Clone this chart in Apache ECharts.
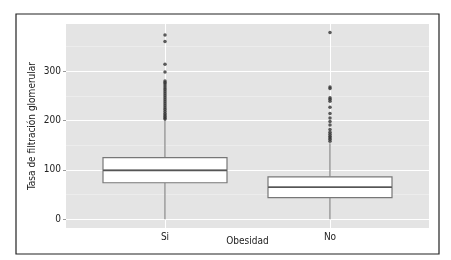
<!DOCTYPE html>
<html>
<head>
<meta charset="utf-8">
<script src="https://cdn.jsdelivr.net/npm/echarts@6/dist/echarts.min.js"></script>
<style>
  html, body { margin: 0; padding: 0; background: #fff; }
  #chart { width: 451px; height: 260px; }
</style>
</head>
<body>
<div id="chart"></div>
<script>
// categorias y estadisticos de cada caja [min, Q1, mediana, Q3, max]
const categories = ["Si", "No"];
const boxStats = [
  [0, 74, 99, 125, 202],
  [0, 44, 65, 86, 154]
];
// valores atipicos
const outliersSi = [373, 360, 314, 298, 280, 277, 274, 270, 266, 262, 258, 254, 250, 246,
  242, 238, 234, 230, 226, 222, 218, 214, 211, 208, 205, 203];
const outliersNo = [378, 268, 265, 246, 243, 239, 227, 214, 205, 198, 191, 182, 176, 172,
  168, 165, 162, 158];
const yTicks = [0, 100, 200, 300];
const yMinor = [50, 150, 250, 350];

const font = "'Liberation Sans Narrow', 'DejaVu Sans Condensed', sans-serif";

const chart = echarts.init(document.getElementById("chart"));

// caja sin bigotes (min = Q1, max = Q3); los bigotes van aparte, sin remate
const boxData = boxStats.map((s, i) => [i + 1, s[1], s[1], s[2], s[3], s[3]]);
const whiskerData = [];
boxStats.forEach((s, i) => {
  whiskerData.push([i + 1, s[0], s[1]]);
  whiskerData.push([i + 1, s[3], s[4]]);
});
const medianData = boxStats.map((s, i) => [i + 1, s[2]]);
const outlierData = []
  .concat(outliersSi.map(v => [1, v]))
  .concat(outliersNo.map(v => [2, v]));

const option = {
  animation: false,
  backgroundColor: "#fff",
  grid: {
    left: 66, right: 22, top: 24, bottom: 32,
    show: true, backgroundColor: "#e4e4e4", borderWidth: 0
  },
  graphic: [{
    type: "rect",
    shape: { x: 16, y: 14, width: 423, height: 240 },
    style: { fill: "none", stroke: "#222", lineWidth: 1.2 },
    z: 100
  }],
  xAxis: {
    type: "value",
    min: 0.4, max: 2.6,
    name: "Obesidad",
    nameLocation: "middle",
    nameGap: 8,
    nameMoveOverlap: false,
    nameTextStyle: { fontFamily: font, fontSize: 10, color: "#222", verticalAlign: "top" },
    axisLine: { show: false },
    axisTick: { show: false, customValues: [1, 2] },
    axisLabel: {
      customValues: [1, 2],
      formatter: v => categories[Math.round(v) - 1],
      fontFamily: font, fontSize: 10, color: "#222", margin: 4
    },
    splitLine: { show: true, lineStyle: { color: "#fff", width: 1 } }
  },
  yAxis: [{
    type: "value",
    min: -17.6, max: 395.3,
    name: "Tasa de filtración glomerular",
    nameLocation: "middle",
    nameRotate: 90,
    nameGap: 29,
    nameMoveOverlap: false,
    nameTextStyle: { fontFamily: font, fontSize: 10, color: "#222" },
    axisLine: { show: false },
    axisTick: { show: true, length: 3, customValues: yTicks, lineStyle: { color: "#999" } },
    axisLabel: {
      customValues: yTicks,
      fontFamily: font, fontSize: 10, color: "#222", margin: 5
    },
    splitLine: { show: true, lineStyle: { color: "#fff", width: 1.1 } }
  }, {
    type: "value",
    min: -17.6, max: 395.3,
    position: "left",
    axisLine: { show: false },
    axisTick: { show: false, customValues: yMinor },
    axisLabel: { show: false },
    splitLine: { show: true, lineStyle: { color: "#f2f2f2", width: 0.6 } }
  }],
  series: [{
    type: "custom",
    data: whiskerData,
    renderItem: (params, api) => {
      const p0 = api.coord([api.value(0), api.value(1)]);
      const p1 = api.coord([api.value(0), api.value(2)]);
      return {
        type: "line",
        shape: { x1: p0[0], y1: p0[1], x2: p1[0], y2: p1[1] },
        style: { stroke: "#777", lineWidth: 1.1 }
      };
    },
    z: 2
  }, {
    type: "boxplot",
    data: boxData,
    boxWidth: [124, 124],
    itemStyle: { color: "#fff", borderColor: "#777", borderWidth: 1.2 },
    z: 3
  }, {
    // mediana mas oscura que el borde de la caja
    type: "custom",
    data: medianData,
    renderItem: (params, api) => {
      const p0 = api.coord([api.value(0) - 0.375, api.value(1)]);
      const p1 = api.coord([api.value(0) + 0.375, api.value(1)]);
      return {
        type: "line",
        shape: { x1: p0[0], y1: p0[1], x2: p1[0], y2: p1[1] },
        style: { stroke: "#555", lineWidth: 1.6 }
      };
    },
    z: 4
  }, {
    type: "scatter",
    data: outlierData,
    symbolSize: 3.5,
    itemStyle: { color: "#333" },
    z: 5
  }]
};

chart.setOption(option);
</script>
</body>
</html>
